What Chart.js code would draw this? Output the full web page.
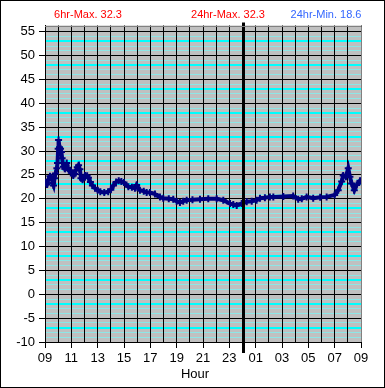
<!DOCTYPE html>
<html>
<head>
<meta charset="utf-8">
<script src="https://cdn.jsdelivr.net/npm/chart.js@4/dist/chart.umd.min.js"></script>
<style>
  html, body { margin: 0; padding: 0; background: #fff; }
  canvas { display: block; }
</style>
</head>
<body>
<canvas id="grafico" width="385" height="388"></canvas>
<script>
// horas desde las 09:00 y temperatura leida
const HOURS = [0, 0.15, 0.25, 0.38, 0.5, 0.58, 0.65, 0.72, 0.8, 0.9, 0.95, 1.0, 1.03, 1.1, 1.18, 1.25, 1.3, 1.39,
  1.5, 1.6, 1.65, 1.72, 1.8, 1.95, 2.05, 2.15, 2.25, 2.35, 2.45, 2.55, 2.65, 2.73, 2.85, 3.04, 3.2, 3.3, 3.45, 3.6,
  3.8, 4.0, 4.2, 4.5, 4.8, 5.0, 5.2, 5.4, 5.6, 5.8, 6.0, 6.33, 6.6, 6.83, 6.96, 7.21, 7.5, 7.72, 7.97, 8.35, 8.73,
  8.98, 9.4, 9.74, 10.0, 10.25, 10.5, 10.76, 11.2, 11.77, 12.4, 13.04, 13.54, 14.05, 14.3, 14.56, 14.94, 15.32,
  15.7, 16.07, 16.33, 16.7, 17.08, 17.34, 18.1, 18.85, 19.23, 19.5, 19.87, 20.37, 20.9, 21.39, 22.0, 22.27, 22.53,
  22.65, 22.85, 23.03, 23.16, 23.29, 23.49, 23.67, 23.92, 24.0];
const TEMPS = [23.3, 23.0, 24.0, 24.7, 24.5, 23.3, 22.8, 24.3, 25.3, 26.4, 27.5, 30.5, 32.3, 30.8, 30.5, 29.8, 28.5, 26.7,
  26.3, 27.0, 27.5, 26.5, 26.0, 25.8, 25.4, 24.9, 25.2, 26.0, 26.6, 27.0, 26.2, 24.3, 24.0, 24.9, 24.8, 24.4, 23.5, 22.8,
  22.2, 21.8, 21.5, 21.3, 21.5, 21.9, 22.8, 23.5, 23.8, 23.6, 23.4, 22.5, 22.4, 22.2, 22.9, 21.8, 21.6, 21.3, 21.3, 21.0, 20.4,
  20.1, 20.0, 19.9, 19.5, 19.2, 19.5, 19.7, 19.8, 19.9, 20.0, 20.0, 19.7, 19.0, 18.8, 18.6, 19.0, 19.4,
  19.5, 19.7, 20.1, 20.2, 20.4, 20.4, 20.5, 20.6, 19.9, 20.0, 20.4, 20.1, 20.3, 20.4, 20.8, 21.8, 23.6,
  24.9, 24.6, 26.4, 24.6, 23.2, 21.8, 22.9, 23.8, 23.7];

const HOUR_LABELS = ['09', '10', '11', '12', '13', '14', '15', '16', '17', '18', '19', '20', '21', '22', '23',
  '00', '01', '02', '03', '04', '05', '06', '07', '08', '09'];
const Y_TICKS = [-10, -5, 0, 5, 10, 15, 20, 25, 30, 35, 40, 45, 50, 55];
const Y_MIN = -10;
const Y_MAX = 56.3;
const MIDNIGHT = 15; // 00 = 15 horas despues de las 09

const HEADER = [
  { text: '6hr-Max. 32.3', x: 88, color: '#ff0000' },
  { text: '24hr-Max. 32.3', x: 228, color: '#ff0000' },
  { text: '24hr-Min. 18.6', x: 326, color: '#3366ff' }
];

const FONT = 'Liberation Sans, Arial, sans-serif';
const mod5 = v => ((Math.round(v) % 5) + 5) % 5;

// fondo gris, textos y linea de medianoche
const decorado = {
  id: 'decorado',
  beforeDraw(chart) {
    const { ctx, chartArea: a } = chart;
    ctx.save();
    ctx.fillStyle = '#fff';
    ctx.fillRect(0, 0, chart.width, chart.height);
    ctx.fillStyle = '#c0c0c0';
    ctx.fillRect(a.left, a.top, a.right - a.left, a.bottom - a.top);
    ctx.restore();
  },
  afterDatasetsDraw(chart) {
    const { ctx, chartArea: a } = chart;
    const x = Math.round(chart.scales.x.getPixelForValue(MIDNIGHT)) + 0.5;
    ctx.save();
    ctx.strokeStyle = '#000';
    ctx.lineWidth = 3;
    ctx.beginPath();
    ctx.moveTo(x, a.top - 3);
    ctx.lineTo(x, a.bottom + 11);
    ctx.stroke();
    ctx.restore();
  },
  afterDraw(chart) {
    const { ctx, chartArea: a } = chart;
    ctx.save();
    ctx.strokeStyle = '#808080';
    ctx.lineWidth = 1;
    ctx.beginPath();
    ctx.moveTo(Math.round(a.left), Math.round(a.top) + 0.5);
    ctx.lineTo(Math.round(a.right) + 0.5, Math.round(a.top) + 0.5);
    ctx.lineTo(Math.round(a.right) + 0.5, Math.round(a.bottom));
    ctx.stroke();
    ctx.font = '11px ' + FONT;
    ctx.textAlign = 'center';
    ctx.textBaseline = 'middle';
    HEADER.forEach(h => {
      ctx.fillStyle = h.color;
      ctx.fillText(h.text, h.x, 15);
    });
    ctx.fillStyle = '#000';
    ctx.font = '13px ' + FONT;
    ctx.fillText('Hour', 195, 374);
    ctx.strokeStyle = '#000';
    ctx.strokeRect(0.5, 0.5, chart.width - 1, chart.height - 1);
    ctx.restore();
  }
};

new Chart(document.getElementById('grafico'), {
  type: 'line',
  data: {
    datasets: [{
      label: 'Temp',
      data: HOURS.map((h, i) => ({ x: h, y: TEMPS[i] })),
      borderColor: '#000080',
      backgroundColor: '#000080',
      borderWidth: 4,
      pointStyle: 'cross',
      pointRadius: 3.5,
      pointBorderWidth: 2,
      tension: 0
    }]
  },
  options: {
    responsive: false,
    animation: false,
    devicePixelRatio: 1,
    layout: { padding: { left: 0, right: 24, top: 25.5, bottom: 0 } },
    plugins: {
      legend: { display: false },
      tooltip: { enabled: false }
    },
    scales: {
      x: {
        type: 'linear',
        min: 0,
        max: HOUR_LABELS.length - 1,
        afterBuildTicks: s => { s.ticks = HOUR_LABELS.map((_, i) => ({ value: i })); },
        afterFit: s => { s.height = 46; },
        ticks: {
          autoSkip: false,
          maxRotation: 0,
          padding: 3,
          color: '#000',
          font: { family: FONT, size: 13 },
          callback: (v, i) => (i % 2 === 0 ? HOUR_LABELS[i] : '')
        },
        grid: {
          z: -1,
          color: '#000',
          lineWidth: 1,
          tickLength: 6,
          tickColor: c => (c.index % 2 === 0 ? '#000' : 'rgba(0,0,0,0)')
        },
        border: { color: '#000', width: 1 }
      },
      y: {
        min: Y_MIN,
        max: Y_MAX,
        afterBuildTicks: s => {
          const t = [];
          for (let v = Y_TICKS[0]; v <= Y_TICKS[Y_TICKS.length - 1]; v++) t.push({ value: v });
          s.ticks = t;
        },
        afterFit: s => { s.width = 45; },
        ticks: {
          autoSkip: false,
          padding: 4,
          color: '#000',
          font: { family: FONT, size: 13 },
          callback: v => (Y_TICKS.includes(v) ? String(v) : '')
        },
        grid: {
          z: -2,
          color: c => {
            const m = mod5(c.tick.value);
            if (m === 0) return '#000';
            return m === 3 ? '#00ffff' : '#8ee6e6';
          },
          lineWidth: c => (mod5(c.tick.value) === 3 ? 2 : 1),
          tickLength: 6,
          tickColor: c => (mod5(c.tick.value) === 0 ? '#000' : 'rgba(0,0,0,0)')
        },
        border: { color: '#000', width: 1 }
      }
    }
  },
  plugins: [decorado]
});
</script>
</body>
</html>
